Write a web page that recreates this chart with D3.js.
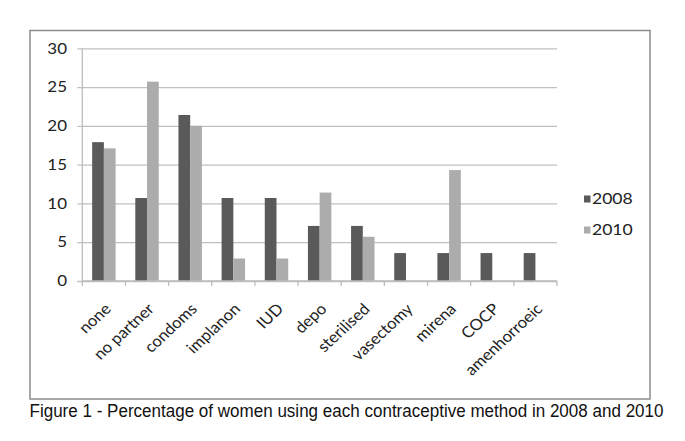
<!DOCTYPE html>
<html>
<head>
<meta charset="utf-8">
<script src="https://cdn.jsdelivr.net/npm/d3@7"></script>
<style>
  html, body { margin: 0; padding: 0; background: #fff; }
  svg { display: block; }
  .lbl { font-family: Lato, "Open Sans", sans-serif; fill: #222; }
</style>
</head>
<body>
<svg id="chart" width="685" height="441"></svg>
<script>
const categories = ["none", "no partner", "condoms", "implanon", "IUD", "depo", "sterilised", "vasectomy", "mirena", "COCP", "amenhorroeic"];
const seriesNames = ["2008", "2010"];
const values2008 = [17.9, 10.7, 21.4, 10.7, 10.7, 7.1, 7.1, 3.6, 3.6, 3.6, 3.6];
const values2010 = [17.1, 25.7, 20.0, 2.9, 2.9, 11.4, 5.7, 0, 14.3, 0, 0];
const yTicks = [0, 5, 10, 15, 20, 25, 30];
const caption = "Figure 1 - Percentage of women using each contraceptive method in 2008 and 2010";

const colors = { "2008": "#5a5a5a", "2010": "#acacac" };
const seriesValues = { "2008": values2008, "2010": values2010 };

const svg = d3.select("#chart");
const plot = { left: 82.3, right: 557, top: 48.3, bottom: 281 };
const STRETCH = 1.17;
const ROT_STRETCH = 1.08;

// outer chart border
svg.append("rect")
  .attr("x", 30).attr("y", 30.5).attr("width", 620).attr("height", 368.5)
  .attr("fill", "none").attr("stroke", "#8c8c8c").attr("stroke-width", 1.5);

const x0 = d3.scaleBand().domain(categories).range([plot.left, plot.right]).padding(0);
const x1 = d3.scaleBand().domain(seriesNames).range([0, x0.bandwidth()]).paddingInner(0).paddingOuter(0.84);
const y = d3.scaleLinear().domain([0, 30]).range([plot.bottom, plot.top]);

// gridlines + y ticks
const yAxis = d3.axisLeft(y).tickValues(yTicks).tickSize(-(plot.right - plot.left)).tickFormat("");
const gy = svg.append("g").attr("transform", `translate(${plot.left},0)`).call(yAxis);
gy.select(".domain").remove();
gy.selectAll(".tick line").attr("x1", -5).attr("stroke", "#c0c0c0").attr("stroke-width", 1.3);

// y labels
svg.append("g").selectAll("text").data(yTicks).join("text")
  .attr("class", "lbl stretch")
  .attr("x", 67).attr("y", d => y(d))
  .attr("dy", "0.36em")
  .attr("text-anchor", "end")
  .attr("font-size", 14.5)
  .text(d => d);

// bars
const groups = svg.append("g").selectAll("g").data(categories).join("g")
  .attr("transform", d => `translate(${x0(d)},0)`);
groups.selectAll("rect")
  .data((c, i) => seriesNames.map(s => ({ s, v: seriesValues[s][i] })))
  .join("rect")
  .attr("x", d => x1(d.s))
  .attr("width", x1.bandwidth())
  .attr("y", d => y(d.v))
  .attr("height", d => y(0) - y(d.v))
  .attr("fill", d => colors[d.s]);

// vertical axis line
svg.append("line")
  .attr("x1", plot.left).attr("x2", plot.left)
  .attr("y1", plot.top).attr("y2", plot.bottom)
  .attr("stroke", "#bdbdbd").attr("stroke-width", 1.3);

// x axis with boundary ticks
const boundaries = categories.map(c => x0(c)).concat([plot.right]);
svg.append("line")
  .attr("x1", plot.left).attr("x2", plot.right)
  .attr("y1", plot.bottom).attr("y2", plot.bottom)
  .attr("stroke", "#bdbdbd").attr("stroke-width", 1.3);
svg.append("g").selectAll("line").data(boundaries).join("line")
  .attr("x1", d => d).attr("x2", d => d)
  .attr("y1", plot.bottom).attr("y2", plot.bottom + 5)
  .attr("stroke", "#bdbdbd").attr("stroke-width", 1.3);

// x labels rotated (slightly stretched horizontally like the reference)
svg.append("g").selectAll("text").data(categories).join("text")
  .attr("class", "lbl")
  .attr("font-size", 15.5)
  .attr("text-anchor", "end")
  .attr("transform", d => `translate(${x0(d) + x0.bandwidth() / 2 + 8},310) scale(${ROT_STRETCH},1) rotate(-45)`)
  .text(d => d);

// legend
const legend = svg.append("g").selectAll("g").data(seriesNames).join("g")
  .attr("transform", (d, i) => `translate(584,${199 + i * 31})`);
legend.append("rect")
  .attr("x", 0).attr("y", -3.5).attr("width", 6.5).attr("height", 7)
  .attr("fill", d => colors[d]);
legend.append("text")
  .attr("class", "lbl stretch")
  .attr("x", 8).attr("y", 0).attr("dy", "0.36em")
  .attr("font-size", 15)
  .text(d => d);

// stretch horizontal chart text like the reference
svg.selectAll(".stretch").each(function () {
  const w = this.getComputedTextLength();
  d3.select(this).attr("textLength", w * STRETCH).attr("lengthAdjust", "spacingAndGlyphs");
});

// caption
svg.append("text")
  .attr("x", 29.5).attr("y", 417)
  .attr("font-family", "'Liberation Sans', Arial, sans-serif")
  .attr("font-size", 17.5)
  .attr("fill", "#111")
  .attr("textLength", 634)
  .attr("lengthAdjust", "spacingAndGlyphs")
  .text(caption);
</script>
</body>
</html>
